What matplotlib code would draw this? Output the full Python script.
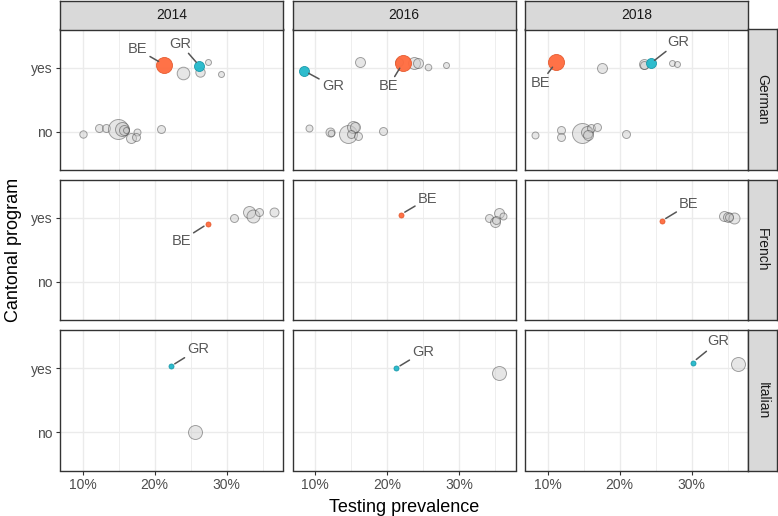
import matplotlib
matplotlib.use("Agg")
import matplotlib.pyplot as plt
from matplotlib.ticker import PercentFormatter, MultipleLocator, FixedLocator
from matplotlib.patches import Rectangle

plt.rcParams['font.family'] = ['Liberation Sans', 'DejaVu Sans']

years = ["2014", "2016", "2018"]
regions = ["German", "French", "Italian"]
y_categories = ["no", "yes"]

# one row per canton/year: region, year, canton, prevalence (%), program position (jittered), size
pt_region = (["German"] * 17 + ["German"] * 17 + ["German"] * 16 +
             ["French"] * 6 + ["French"] * 6 + ["French"] * 5 +
             ["Italian"] * 2 + ["Italian"] * 2 + ["Italian"] * 2)
pt_year = (["2014"] * 17 + ["2016"] * 17 + ["2018"] * 16 +
           ["2014"] * 6 + ["2016"] * 6 + ["2018"] * 5 +
           ["2014"] * 2 + ["2016"] * 2 + ["2018"] * 2)
pt_canton = (
    ["BE", "GR", "", "", "", "", "", "", "", "", "", "", "", "", "", "", ""] +
    ["GR", "", "BE", "", "", "", "", "", "", "", "", "", "", "", "", "", ""] +
    ["BE", "", "", "", "GR", "", "", "", "", "", "", "", "", "", "", ""] +
    ["BE", "", "", "", "", ""] +
    ["BE", "", "", "", "", ""] +
    ["BE", "", "", "", ""] +
    ["GR", ""] + ["GR", ""] + ["GR", ""])
pt_prev = (
    [21.3, 26.2, 23.9, 26.3, 27.4, 29.2, 10.0, 12.3, 13.3, 14.95, 15.4, 15.8, 16.0, 16.7, 17.6, 17.4, 20.9] +
    [8.5, 16.2, 22.2, 21.6, 23.75, 24.3, 25.6, 28.2, 9.2, 12.1, 12.2, 14.6, 15.3, 15.5, 15.0, 15.9, 19.4] +
    [11.2, 17.6, 23.4, 23.3, 24.3, 27.2, 28.0, 8.25, 11.9, 11.9, 14.7, 15.5, 16.0, 16.8, 15.6, 20.8] +
    [27.4, 31.05, 33.1, 33.7, 34.4, 36.5] +
    [21.85, 34.1, 35.5, 34.9, 36.1, 35.1] +
    [25.8, 34.5, 35.0, 35.8, 35.2] +
    [22.2, 25.6] + [21.2, 35.5] + [30.1, 36.4])
pt_program = (
    [2.05, 2.03, 1.92, 1.94, 2.09, 1.91, 0.96, 1.06, 1.06, 1.04, 1.04, 1.03, 1.02, 0.90, 1.00, 0.91, 1.04] +
    [1.95, 2.09, 2.08, 2.09, 2.08, 2.07, 2.01, 2.05, 1.05, 1.00, 0.975, 0.96, 1.08, 1.08, 0.96, 0.93, 1.01] +
    [2.09, 1.99, 2.06, 2.04, 2.07, 2.07, 2.06, 0.95, 1.02, 0.92, 0.98, 1.00, 1.05, 1.07, 0.95, 0.97] +
    [1.91, 2.00, 2.09, 2.03, 2.09, 2.09] +
    [2.05, 2.00, 2.08, 1.94, 2.03, 1.97] +
    [1.95, 2.03, 2.02, 1.99, 2.01] +
    [2.03, 1.00] + [2.00, 1.92] + [2.09, 2.07])
pt_size = (
    [8, 5, 6.3, 4.7, 3, 3, 3.7, 4, 4, 10, 7, 5, 3, 5, 3.5, 4, 4] +
    [5, 5, 8, 4, 6, 5, 3.3, 3, 3.5, 4.5, 3.3, 9, 6, 5, 4, 4, 4] +
    [8, 5, 5, 4, 5, 3, 3, 3.5, 4, 4, 10, 6, 4, 4, 5, 4] +
    [2.5, 4, 6, 6.5, 4, 4.5] +
    [2.5, 4, 5, 5, 3.5, 4] +
    [2.5, 5, 5, 5.5, 4] +
    [2.5, 7] + [2.5, 7] + [2.5, 7])

# label text positions (prevalence %, program position)
lab_region = ["German", "German", "German", "German", "German", "German", "French", "French", "French", "Italian", "Italian", "Italian"]
lab_year = ["2014", "2014", "2016", "2016", "2018", "2018", "2014", "2016", "2018", "2014", "2016", "2018"]
lab_canton = ["BE", "GR", "GR", "BE", "BE", "GR", "BE", "BE", "BE", "GR", "GR", "GR"]
lab_x = [17.6, 23.5, 12.45, 20.2, 9.0, 28.15, 23.65, 25.6, 29.6, 26.05, 25.0, 33.7]
lab_y = [2.29, 2.38, 1.71, 1.71, 1.76, 2.41, 1.64, 2.30, 2.21, 2.30, 2.26, 2.42]

colors = {"BE": ("#FF6A3D", "#E4572B"), "GR": ("#22B9CB", "#1797A8")}

W, H = 778, 516
fig = plt.figure(figsize=(W / 100, H / 100), dpi=100)

col_x0 = [60, 292.5, 525]
col_w = 223
row_y0 = [29.5, 179.5, 330]
row_h = 140.5

def px_rect(x0, y0, w, h):
    return [x0 / W, 1 - (y0 + h) / H, w / W, h / H]

for r, reg in enumerate(regions):
    for c, yr in enumerate(years):
        ax = fig.add_axes(px_rect(col_x0[c], row_y0[r], col_w, row_h))
        ax.set_xlim(6.85, 37.8)
        ax.set_ylim(0.4, 2.6)
        ax.xaxis.set_major_locator(FixedLocator([10, 20, 30]))
        ax.xaxis.set_minor_locator(FixedLocator([15, 25, 35]))
        ax.xaxis.set_major_formatter(PercentFormatter(100, decimals=0))
        ax.set_yticks([1, 2])
        ax.set_yticklabels(y_categories)
        ax.grid(True, which='major', color='#EBEBEB', lw=1.0, zorder=0)
        ax.grid(True, which='minor', axis='x', color='#EBEBEB', lw=0.6, zorder=0)
        ax.set_axisbelow(True)
        for s in ax.spines.values():
            s.set_color('#333333')
            s.set_linewidth(1.0)
        ax.tick_params(axis='both', which='major', length=3, width=0.8, color='#333333',
                       labelsize=10, labelcolor='#4D4D4D', pad=2.5)
        ax.tick_params(axis='x', which='minor', length=0)
        if c != 0:
            ax.tick_params(axis='y', left=False, labelleft=False)
        if r != 2:
            ax.tick_params(axis='x', bottom=False, labelbottom=False)

        idx = [i for i in range(len(pt_prev)) if pt_region[i] == reg and pt_year[i] == yr]
        for i in idx:
            d = 2 * pt_size[i] * 0.72
            if pt_canton[i] in colors:
                fc, ec = colors[pt_canton[i]]
                ax.scatter([pt_prev[i]], [pt_program[i]], s=d ** 2, facecolor=fc,
                           edgecolor=ec, linewidths=0.6, alpha=0.95, zorder=4)
            else:
                ax.scatter([pt_prev[i]], [pt_program[i]], s=d ** 2, facecolor='#C8C8C8',
                           edgecolor='#3A3A3A', linewidths=0.7, alpha=0.45, zorder=3)

        for j in range(len(lab_x)):
            if lab_region[j] == reg and lab_year[j] == yr:
                k = [i for i in idx if pt_canton[i] == lab_canton[j]][0]
                ax.annotate(lab_canton[j], xy=(pt_prev[k], pt_program[k]),
                            xytext=(lab_x[j], lab_y[j]), ha='center', va='center',
                            fontsize=10.5, color='#595959', zorder=5,
                            arrowprops=dict(arrowstyle='-', color='#555555', lw=1.1,
                                            shrinkA=0, shrinkB=max(3.5, pt_size[k] * 0.72 * 0.8)))

        # top strips
        if r == 0:
            sax = fig.add_axes(px_rect(col_x0[c], 1, col_w, 28.5))
            sax.set_xticks([]); sax.set_yticks([])
            sax.set_facecolor('#D9D9D9')
            for s in sax.spines.values():
                s.set_color('#333333'); s.set_linewidth(1.0)
            sax.text(0.5, 0.5, yr, ha='center', va='center', fontsize=10, color='#1A1A1A',
                     transform=sax.transAxes)
        # right strips
        if c == 2:
            sax = fig.add_axes(px_rect(748, row_y0[r], 28.5, row_h))
            sax.set_xticks([]); sax.set_yticks([])
            sax.set_facecolor('#D9D9D9')
            for s in sax.spines.values():
                s.set_color('#333333'); s.set_linewidth(1.0)
            sax.text(0.5, 0.5, reg, ha='center', va='center', fontsize=10, color='#1A1A1A',
                     rotation=-90, transform=sax.transAxes)

fig.text(404 / W, 1 - 507 / H, "Testing prevalence", ha='center', va='center', fontsize=13, color='black')
fig.text(14 / W, 1 - 250 / H, "Cantonal program", ha='center', va='center', fontsize=13,
         color='black', rotation=90)

fig.savefig("out.png", dpi=100)
